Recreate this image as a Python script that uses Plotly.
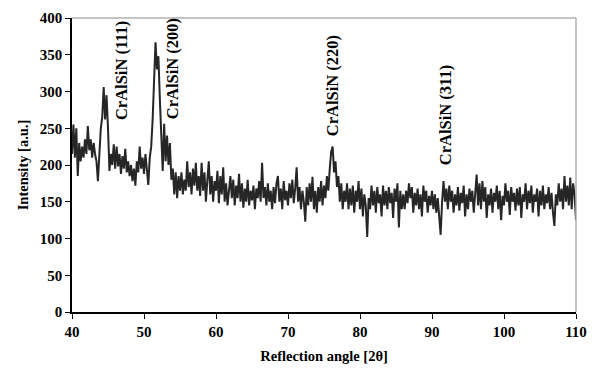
import plotly.graph_objects as go

angle_start = 40.0
angle_step = 0.2

intensity = [
    215, 255, 210, 250, 185, 230, 205, 225, 210, 235,
    215, 253, 220, 235, 210, 230, 215, 205, 178, 225,
    250, 265, 306, 262, 295, 250, 192, 215, 200, 228,
    195, 225, 198, 215, 188, 212, 195, 222, 190, 205,
    185, 200, 178, 195, 172, 205, 190, 225, 195, 210,
    188, 215, 195, 173, 210, 225, 262, 310, 367, 330,
    348, 290, 225, 192, 256, 205, 240, 200, 230, 180,
    195, 160, 190, 155, 185, 165, 190, 160, 180, 165,
    205, 170, 190, 160, 195, 172, 203, 165, 185, 158,
    203, 165, 190, 150, 180, 205, 160, 185, 150, 178,
    165, 192, 148, 185, 160, 197, 150, 175, 145, 170,
    185, 155, 180, 145, 172, 155, 188, 150, 175, 142,
    168, 150, 180, 145, 165, 152, 172, 140, 168, 155,
    178, 150, 203, 155, 170, 145, 175, 150, 165, 140,
    170, 148, 175, 185, 150, 168, 140, 178, 152, 165,
    145, 175, 155, 180, 148, 168, 197, 150, 170, 140,
    165, 150, 123, 170, 145, 175, 150, 184, 140, 165,
    135, 170, 150, 178, 145, 172, 155, 185, 165, 195,
    218, 225, 190, 205, 170, 185, 150, 175, 140, 165,
    150, 175, 140, 168, 145, 172, 135, 165, 150, 178,
    140, 168, 130, 160, 145, 102, 155, 140, 172, 145,
    165, 135, 170, 148, 160, 130, 172, 145, 165, 140,
    170, 148, 162, 128, 168, 150, 175, 115, 165, 140,
    160, 140, 165, 148, 175, 155, 170, 135, 162, 145,
    168, 140, 160, 130, 172, 150, 165, 135, 158, 145,
    165, 140, 160, 135, 155, 130, 105, 150, 178, 150,
    168, 140, 172, 150, 165, 135, 160, 145, 170, 138,
    162, 148, 172, 130, 160, 140, 168, 150, 165, 135,
    165, 187, 145, 175, 140, 178, 150, 170, 128, 160,
    145, 168, 135, 162, 150, 172, 140, 165, 125, 158,
    145, 175, 150, 165, 132, 170, 150, 162, 138, 168,
    145, 170, 128, 160, 150, 175, 140, 165, 148, 172,
    135, 160, 150, 168, 130, 165, 145, 172, 140, 160,
    148, 170, 140, 162, 135, 117, 160, 145, 175, 150,
    168, 140, 185, 150, 172, 145, 183, 140, 175, 160,
    125,
]
angles = [round(angle_start + i * angle_step, 2) for i in range(len(intensity))]

peak_labels = ["CrAlSiN (111)", "CrAlSiN (200)", "CrAlSiN (220)", "CrAlSiN (311)"]
peak_label_x = [46.8, 53.9, 76.1, 91.8]
peak_label_y = [259, 259, 237, 197]

x_ticks = [40, 50, 60, 70, 80, 90, 100, 110]
y_ticks = [0, 50, 100, 150, 200, 250, 300, 350, 400]

font_family = "Liberation Serif, Times New Roman, serif"

fig = go.Figure()
fig.add_trace(go.Scatter(
    x=angles, y=intensity, mode="lines",
    line=dict(color="#262626", width=2),
    showlegend=False, hoverinfo="skip",
))

for txt, xx, yy in zip(peak_labels, peak_label_x, peak_label_y):
    fig.add_annotation(
        x=xx, y=yy, text="<b>" + txt + "</b>", textangle=-90,
        showarrow=False, xanchor="center", yanchor="bottom",
        font=dict(family=font_family, size=16.5, color="black"),
    )

fig.add_shape(type="line", xref="paper", yref="paper", x0=0, x1=1, y0=1, y1=1,
              line=dict(color="#b0b0b0", width=1.5))
fig.add_shape(type="line", xref="paper", yref="paper", x0=1, x1=1, y0=0, y1=1,
              line=dict(color="#b0b0b0", width=1.5))

# page body has an 8px default margin, so the figure is sized to fit the window
fig.update_layout(
    width=588, height=364,
    margin=dict(l=64, r=20, t=10, b=60),
    paper_bgcolor="white", plot_bgcolor="white",
    font=dict(family=font_family, size=15, color="black"),
    xaxis=dict(
        range=[40, 110], tickvals=x_ticks, ticktext=[f"<b>{v}</b>" for v in x_ticks],
        showgrid=False, zeroline=False, showline=True, linecolor="black", linewidth=1.5,
        ticks="outside", ticklen=5, tickcolor="black", automargin=False,
        tickfont=dict(size=15),
        title=dict(text="<b>Reflection angle [2θ]</b>", font=dict(size=14.5), standoff=12),
    ),
    yaxis=dict(
        range=[0, 400], tickvals=y_ticks, ticktext=[f"<b>{v}</b>" for v in y_ticks],
        showgrid=False, zeroline=False, showline=True, linecolor="black", linewidth=1.5,
        ticks="outside", ticklen=5, tickcolor="black", automargin=False,
        tickfont=dict(size=15),
        title=dict(text="<b>Intensity [a.u.]</b>", font=dict(size=14.5), standoff=8),
    ),
)

fig.write_html("out.html")
